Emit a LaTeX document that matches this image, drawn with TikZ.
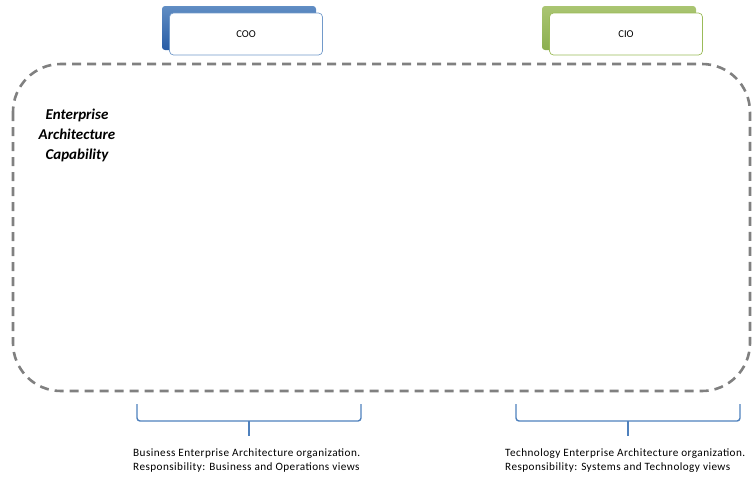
\documentclass[tikz,border=0pt]{standalone}
\usepackage{fontspec}
\setmainfont{Carlito}
\newfontfamily\notefont{Carlito}[LetterSpace=4]
\usetikzlibrary{positioning}

\definecolor{eagray}{RGB}{128,128,128}
\definecolor{eablue}{RGB}{79,129,189}
\definecolor{eablueD}{RGB}{40,92,165}
\definecolor{eagreen}{RGB}{155,187,89}
\definecolor{eagreenD}{RGB}{140,175,80}

\tikzset{
  capbox/.style={draw=eagray, line width=2.6pt, dash pattern={on 9pt off 6pt}, rounded corners=48pt},
  backbox/.style={rounded corners=3pt, line width=0pt},
  rolebox/.style={draw, fill=white, rounded corners=4pt, line width=0.7pt, minimum width=153pt, minimum height=42pt, inner sep=0pt, font=\fontsize{10.5}{12}\selectfont},
  brace/.style={draw=eablue, line width=1.4pt, rounded corners=3pt},
  note/.style={anchor=north west, inner sep=0pt, align=left, font=\notefont\fontsize{11.2}{14}\selectfont}
}

\begin{document}
\begin{tikzpicture}[x=1pt,y=1pt,yscale=-1,xscale=1]
				\useasboundingbox (0,0) rectangle (754,479);

				%Shape: Rounded Rect (capability)
				\draw [capbox] (13,64) rectangle (750,391);

				%Shape: Back of COO
				\shade [backbox, top color=eablue!90!white, bottom color=eablueD] (162,6) rectangle (316,50);
				%Shape: Back of CIO
				\shade [backbox, top color=eagreen!85!white, bottom color=eagreenD] (542,6) rectangle (696,50);

				% Role Nodes
				\node [rolebox, draw=eablue!80!white] (coo) at (246,34) {COO};
				\node [rolebox, draw=eagreen] (cio) at (626,34) {CIO};

				% Text Node
				\node [inner sep=0pt, align=center, font=\fontsize{15}{20}\selectfont\bfseries\itshape] (cap) at (77,135) {Enterprise\\Architecture\\Capability};

				%Shape: Brace (business)
				\draw [brace] (137,404) -- (137,421) -- (361,421) -- (361,404);
				\coordinate (bmid) at (249,421);
				\coordinate (btip) at (249,436);
				\draw [brace] (bmid) -- (btip);
				%Shape: Brace (technology)
				\draw [brace] (516,404) -- (516,421) -- (740,421) -- (740,404);
				\coordinate (tmid) at (628,421);
				\coordinate (ttip) at (628,436);
				\draw [brace] (tmid) -- (ttip);

				% Text Node
				\node [note] (bnote) at (133,449) {Business Enterprise Architecture organization.\\Responsibility: Business and Operations views};
				% Text Node
				\node [note] (tnote) at (505,449) {Technology Enterprise Architecture organization.\\Responsibility: Systems and Technology views};

\end{tikzpicture}
\end{document}
